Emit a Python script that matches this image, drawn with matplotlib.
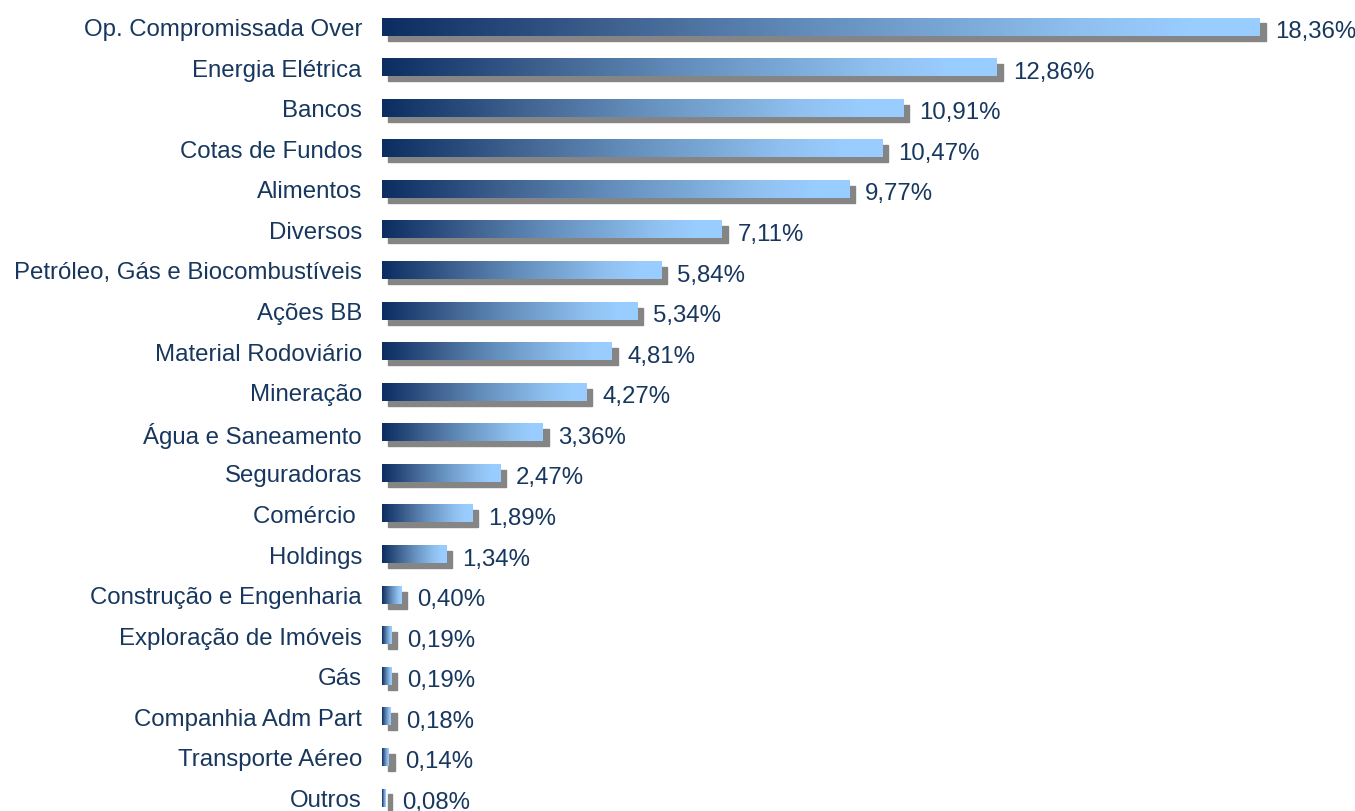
import numpy as np
import matplotlib.pyplot as plt
from matplotlib.colors import LinearSegmentedColormap
from matplotlib.patches import Rectangle

plt.rcParams["font.family"] = ["Liberation Sans", "DejaVu Sans"]

categories = ["Op. Compromissada Over", "Energia Elétrica", "Bancos", "Cotas de Fundos",
              "Alimentos", "Diversos", "Petróleo, Gás e Biocombustíveis", "Ações BB",
              "Material Rodoviário", "Mineração", "Água e Saneamento", "Seguradoras",
              "Comércio ", "Holdings", "Construção e Engenharia", "Exploração de Imóveis",
              "Gás", "Companhia Adm Part", "Transporte Aéreo", "Outros"]
values = [18.36, 12.86, 10.91, 10.47, 9.77, 7.11, 5.84, 5.34, 4.81, 4.27,
          3.36, 2.47, 1.89, 1.34, 0.40, 0.19, 0.19, 0.18, 0.14, 0.08]
labels = ["18,36%", "12,86%", "10,91%", "10,47%", "9,77%", "7,11%", "5,84%", "5,34%",
          "4,81%", "4,27%", "3,36%", "2,47%", "1,89%", "1,34%", "0,40%", "0,19%",
          "0,19%", "0,18%", "0,14%", "0,08%"]

text_color = "#17375e"
cmap = LinearSegmentedColormap.from_list(
    "bar", [(0, "#0b2d61"), (0.25, "#3d5f8e"), (0.5, "#6590bd"),
            (0.8, "#8fc0ef"), (0.92, "#99ccff"), (1, "#99ccff")])
grad = np.linspace(0, 1, 256).reshape(1, -1)

W, H = 1355, 812
fig = plt.figure(figsize=(W / 100, H / 100), dpi=100)
px_per_unit = 47.8
row = 40.6
x0 = 382
ax_w = 20 * px_per_unit
ax = fig.add_axes([x0 / W, 0, ax_w / W, 1])
ax.axis("off")

bh = 0.42
dx = 6 / px_per_unit
dy = 5 / row
for i, (v, lab) in enumerate(zip(values, labels)):
    ax.add_patch(Rectangle((dx, i - bh / 2 + dy), v, bh, color="#858585", zorder=1))
    ax.imshow(grad, cmap=cmap, aspect="auto", extent=(0, v, i + bh / 2, i - bh / 2),
              zorder=2, interpolation="bilinear")
    ax.text(v + 16 / px_per_unit, i + 0.1, lab, va="center", ha="left",
            fontsize=17.3, color=text_color)
    ax.text(-20 / px_per_unit, i + 0.05, categories[i], va="center", ha="right",
            fontsize=17.3, color=text_color, clip_on=False)

ax.set_xlim(0, 20)
ax.set_ylim(19 + (H - 799) / row, -28 / row)
fig.savefig("out.png", dpi=100)
